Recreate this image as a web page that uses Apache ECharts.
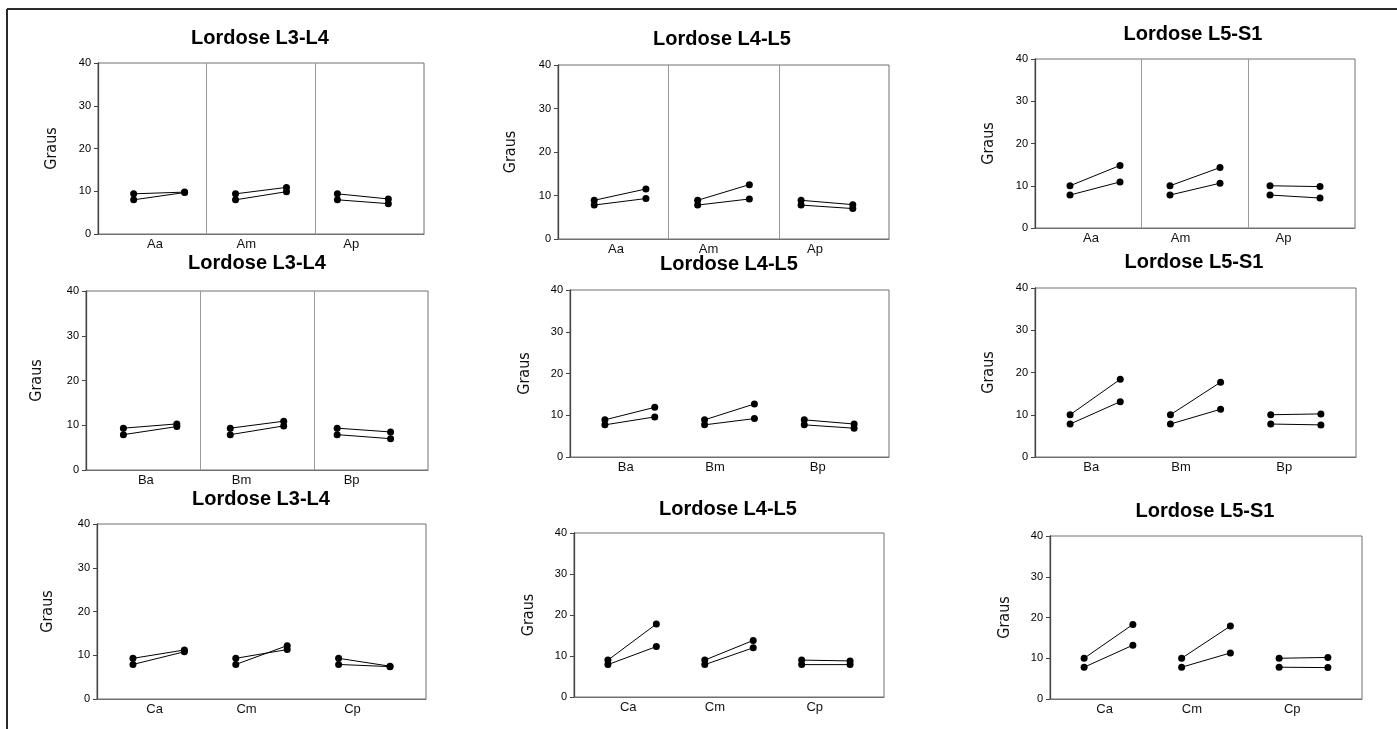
<!DOCTYPE html>
<html>
<head>
<meta charset="utf-8">
<script src="https://cdn.jsdelivr.net/npm/echarts@6/dist/echarts.min.js"></script>
<style>
html,body{margin:0;padding:0;background:#fff;}
#c{width:1397px;height:729px;}
</style>
</head>
<body>
<div id="c"></div>
<script>
// ---- data ----
const rowCategories = [["Aa","Am","Ap"],["Ba","Bm","Bp"],["Ca","Cm","Cp"]];
const colTitles = ["Lordose L3-L4","Lordose L4-L5","Lordose L5-S1"];
const yTicks = [0,10,20,30,40];
const yAxisName = "Graus";
// each panel: [upper line per group [start,end]], [lower line per group [start,end]]
const upperA_L34 = [[9.4,9.8],[9.4,10.9],[9.4,8.2]];
const lowerA_L34 = [[8.0,9.7],[8.0,9.9],[8.0,7.1]];
const upperA_L45 = [[8.9,11.5],[8.9,12.5],[8.9,7.9]];
const lowerA_L45 = [[7.8,9.3],[7.8,9.2],[7.8,7.0]];
const upperA_L5S1 = [[10.0,14.8],[10.0,14.3],[10.0,9.8]];
const lowerA_L5S1 = [[7.8,10.9],[7.8,10.6],[7.8,7.1]];
const upperB_L34 = [[9.35,10.3],[9.35,10.9],[9.35,8.5]];
const lowerB_L34 = [[7.9,9.7],[7.9,9.85],[7.9,7.0]];
const upperB_L45 = [[8.9,11.9],[8.9,12.7],[8.9,7.9]];
const lowerB_L45 = [[7.7,9.6],[7.7,9.2],[7.7,6.9]];
const upperB_L5S1 = [[10.0,18.4],[10.0,17.7],[10.0,10.2]];
const lowerB_L5S1 = [[7.8,13.1],[7.8,11.3],[7.8,7.6]];
const upperC_L34 = [[9.3,11.2],[9.3,11.3],[9.3,7.5]];
const lowerC_L34 = [[7.9,10.8],[7.9,12.2],[7.9,7.4]];
const upperC_L45 = [[9.0,17.8],[9.0,13.8],[9.0,8.8]];
const lowerC_L45 = [[7.9,12.3],[7.9,12.0],[7.9,7.9]];
const upperC_L5S1 = [[10.0,18.3],[10.0,17.9],[10.0,10.2]];
const lowerC_L5S1 = [[7.8,13.2],[7.8,11.3],[7.8,7.7]];

const panelData = [
  [upperA_L34, lowerA_L34], [upperA_L45, lowerA_L45], [upperA_L5S1, lowerA_L5S1],
  [upperB_L34, lowerB_L34], [upperB_L45, lowerB_L45], [upperB_L5S1, lowerB_L5S1],
  [upperC_L34, lowerC_L34], [upperC_L45, lowerC_L45], [upperC_L5S1, lowerC_L5S1]
];

// ---- layout ----
const X_MAX = 6.4;
const pointX = [[0.7,1.7],[2.7,3.7],[4.7,5.7]];
const labelX = [1.12, 2.91, 4.97];
const grids = [
  {left:98, top:63, width:326, height:171, title:[260,39], gap:38, sep:true},
  {left:558, top:65, width:331, height:174, title:[722,40], gap:39, sep:true},
  {left:1035, top:59, width:320, height:169, title:[1193,35], gap:38, sep:true},
  {left:86, top:291, width:342, height:179, title:[257,264], gap:41, sep:true},
  {left:570, top:290, width:319, height:167, title:[729,265], gap:37, sep:false},
  {left:1035, top:288, width:321, height:169, title:[1194,263], gap:38, sep:false},
  {left:97, top:524, width:329, height:175, title:[261,500], gap:41, sep:false},
  {left:574, top:533, width:310, height:164, title:[728,510], gap:37, sep:false},
  {left:1050, top:536, width:312, height:163, title:[1205,512], gap:37, sep:false}
];

const option = {
  animation:false,
  backgroundColor:'#fff',
  title:[], grid:[], xAxis:[], yAxis:[], series:[],
  graphic:[
    {type:'line', shape:{x1:7, y1:9, x2:1397, y2:9}, style:{stroke:'#2a2a2a', lineWidth:2}},
    {type:'line', shape:{x1:7, y1:9, x2:7, y2:729}, style:{stroke:'#2a2a2a', lineWidth:2}}
  ]
};

grids.forEach((g, i) => {
  const row = Math.floor(i/3), col = i%3;
  const cats = rowCategories[row];
  option.title.push({
    text: colTitles[col],
    left: g.title[0], top: g.title[1]-11, textAlign:'center', padding:0,
    textStyle:{fontFamily:'Liberation Sans, Arial, sans-serif', fontWeight:'bold', fontSize:20, color:'#000'}
  });
  option.grid.push({left:g.left, top:g.top, width:g.width, height:g.height, show:true,
    borderColor:'#707070', borderWidth:1, backgroundColor:'transparent'});
  option.xAxis.push({
    type:'value', gridIndex:i, min:0, max:X_MAX,
    axisLine:{show:true, lineStyle:{color:'#707070', width:1}},
    axisTick:{show:false}, splitLine:{show:false},
    axisLabel:{
      customValues: labelX, margin:4, color:'#111', fontSize:13,
      fontFamily:'Liberation Sans, Arial, sans-serif',
      formatter:(v)=>{ let k=0,b=1e9; labelX.forEach((lx,j)=>{ if(Math.abs(lx-v)<b){b=Math.abs(lx-v);k=j;} }); return cats[k]; }
    }
  });
  option.yAxis.push({
    type:'value', gridIndex:i, min:yTicks[0], max:yTicks[yTicks.length-1], interval:10,
    name:yAxisName, nameLocation:'middle', nameRotate:90, nameGap:g.gap,
    nameTextStyle:{fontFamily:'Liberation Sans Narrow, Arial Narrow, DejaVu Sans Condensed, sans-serif', fontSize:16, color:'#111'},
    axisLine:{show:true, lineStyle:{color:'#444', width:1.3}},
    axisTick:{show:true, length:4, lineStyle:{color:'#444'}},
    splitLine:{show:false},
    axisLabel:{margin:7, color:'#000', fontSize:11, fontFamily:'Liberation Sans, Arial, sans-serif'}
  });
  const [up, lo] = panelData[i];
  [up, lo].forEach(lineSet => {
    lineSet.forEach((pair, gi) => {
      option.series.push({
        type:'line', xAxisIndex:i, yAxisIndex:i, silent:true,
        symbol:'circle', symbolSize:7, showSymbol:true,
        itemStyle:{color:'#000'}, lineStyle:{color:'#000', width:1},
        data:[[pointX[gi][0], pair[0]],[pointX[gi][1], pair[1]]]
      });
    });
  });
  if (g.sep) {
    option.series.push({
      type:'line', xAxisIndex:i, yAxisIndex:i, data:[], silent:true,
      markLine:{silent:true, symbol:['none','none'], label:{show:false},
        lineStyle:{color:'#9a9a9a', width:1, type:'solid'},
        data:[{xAxis:X_MAX/3},{xAxis:2*X_MAX/3}]}
    });
  }
});

const chart = echarts.init(document.getElementById('c'), null, {renderer:'canvas'});
chart.setOption(option);
</script>
</body>
</html>
